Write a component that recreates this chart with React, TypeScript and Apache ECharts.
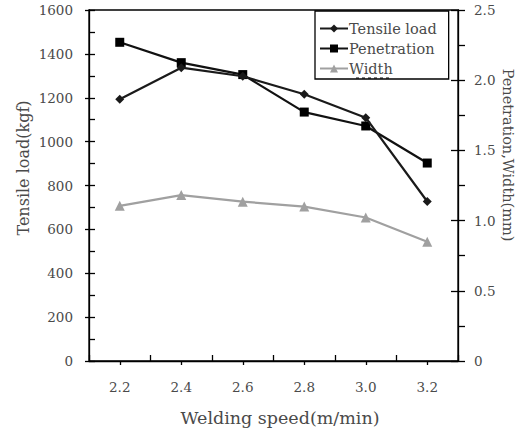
import React, { useEffect, useRef } from "react";
import * as echarts from "echarts";

const speeds = ["2.2", "2.4", "2.6", "2.8", "3.0", "3.2"];
const tensileLoad = [1193, 1337, 1298, 1216, 1109, 727];
const penetration = [2.27, 2.125, 2.04, 1.773, 1.674, 1.41];
const widthMm = [1.105, 1.182, 1.135, 1.1, 1.022, 0.85];
const seriesNames = ["Tensile load", "Penetration", "Width"];

const FONT = "'DejaVu Serif', serif";
const TXT = "#4a4a4a";
const AX = "#000";

export default function App() {
  const ref = useRef<HTMLDivElement>(null);
  useEffect(() => {
    const chart = echarts.init(ref.current!, null, { renderer: "svg" });
    const lineAx = { show: true, lineStyle: { color: AX, width: 1.3 } };
    chart.setOption({
      animation: false,
      backgroundColor: "#fff",
      textStyle: { fontFamily: FONT },
      grid: {
        left: 89,
        right: 66,
        top: 10,
        bottom: 71,
        show: true,
        borderColor: AX,
        borderWidth: 1.3,
        backgroundColor: "transparent",
      },
      legend: {
        orient: "vertical",
        left: 315,
        top: 11,
        data: seriesNames,
        backgroundColor: "#fff",
        borderColor: "#000",
        borderWidth: 1.3,
        padding: [10, 12, 3, 4],
        itemGap: 5,
        itemWidth: 28,
        itemHeight: 10,
        textStyle: { fontFamily: FONT, fontSize: 14.5, color: TXT, padding: [0, 0, 0, -4] },
      },
      xAxis: [
        {
          type: "category",
          data: speeds,
          boundaryGap: true,
          axisLine: lineAx,
          axisTick: { show: true, alignWithLabel: true, inside: false, length: 4, lineStyle: { color: AX, width: 1.3 } },
          axisLabel: { color: TXT, fontFamily: FONT, fontSize: 13.5, margin: 19 },
          splitLine: { show: false },
        },
        {
          type: "category",
          data: speeds,
          position: "bottom",
          boundaryGap: true,
          axisLine: { show: false },
          axisTick: { show: true, alignWithLabel: false, inside: true, length: 6, lineStyle: { color: AX, width: 1.3 } },
          axisLabel: { show: false },
          splitLine: { show: false },
        },
      ],
      yAxis: [
        {
          type: "value",
          min: 0,
          max: 1600,
          interval: 200,
          position: "left",
          axisLine: lineAx,
          axisTick: { show: true, inside: true, length: 6, lineStyle: { color: AX, width: 1.3 } },
          minorTick: { show: true, splitNumber: 2, length: 6, lineStyle: { color: AX, width: 1.3 } },
          axisLabel: { color: TXT, fontFamily: FONT, fontSize: 13.5, margin: 16, formatter: (v: number) => String(v) },
          splitLine: { show: false },
        },
        {
          type: "value",
          min: 0,
          max: 2.5,
          interval: 0.5,
          position: "right",
          axisLine: lineAx,
          axisTick: { show: true, inside: false, length: 7, lineStyle: { color: AX, width: 1.3 } },
          minorTick: { show: true, splitNumber: 2, length: 7, lineStyle: { color: AX, width: 1.3 } },
          axisLabel: {
            color: TXT,
            fontFamily: FONT,
            fontSize: 13.5,
            margin: 16,
            formatter: (v: number) => (v === 0 ? "0" : v.toFixed(1)),
          },
          splitLine: { show: false },
        },
        {
          type: "value",
          min: 0,
          max: 1600,
          interval: 200,
          position: "left",
          axisLine: { show: false },
          axisTick: { show: true, inside: false, length: 4, lineStyle: { color: AX, width: 1.3 } },
          axisLabel: { show: false },
          splitLine: { show: false },
        },
        {
          type: "value",
          min: 0,
          max: 2.5,
          interval: 0.5,
          position: "right",
          axisLine: { show: false },
          axisTick: { show: true, inside: true, length: 7, lineStyle: { color: AX, width: 1.3 } },
          axisLabel: { show: false },
          splitLine: { show: false },
        },
      ],
      series: [
        {
          name: seriesNames[0],
          type: "line",
          yAxisIndex: 0,
          data: tensileLoad,
          symbol: "diamond",
          symbolSize: 9,
          showAllSymbol: true,
          lineStyle: { color: "#1a1a1a", width: 2.2 },
          itemStyle: { color: "#1a1a1a" },
          z: 3,
        },
        {
          name: seriesNames[1],
          type: "line",
          yAxisIndex: 1,
          data: penetration,
          symbol: "rect",
          symbolSize: 9,
          lineStyle: { color: "#111", width: 2.2 },
          itemStyle: { color: "#000" },
          z: 2,
        },
        {
          name: seriesNames[2],
          type: "line",
          yAxisIndex: 1,
          data: widthMm,
          symbol: "triangle",
          symbolSize: 10,
          lineStyle: { color: "#a0a0a0", width: 2.2 },
          itemStyle: { color: "#a0a0a0" },
          z: 2,
        },
      ],
      graphic: [
        {
          type: "text",
          x: 23,
          y: 168,
          rotation: Math.PI / 2,
          style: {
            text: "Tensile load(kgf)",
            fontFamily: FONT,
            fontSize: 16,
            fill: TXT,
            align: "center",
            verticalAlign: "middle",
          },
        },
        {
          type: "text",
          x: 508,
          y: 155,
          rotation: -Math.PI / 2,
          style: {
            text: "Penetration,Width(mm)",
            fontFamily: FONT,
            fontSize: 14.5,
            fill: TXT,
            align: "center",
            verticalAlign: "middle",
          },
        },
        {
          type: "text",
          x: 280,
          y: 418,
          style: {
            text: "Welding speed(m/min)",
            fontFamily: FONT,
            fontSize: 17.5,
            fill: TXT,
            align: "center",
            verticalAlign: "middle",
          },
        },
        {
          type: "line",
          z: 100,
          shape: { x1: 356, y1: 78, x2: 391, y2: 78 },
          style: { stroke: "#000", lineWidth: 1, lineDash: [3, 3] },
        },
      ],
    });
    return () => chart.dispose();
  }, []);
  return (
    <div
      ref={ref}
      style={{ position: "absolute", left: 0, top: 0, width: 524, height: 432 }}
    />
  );
}
